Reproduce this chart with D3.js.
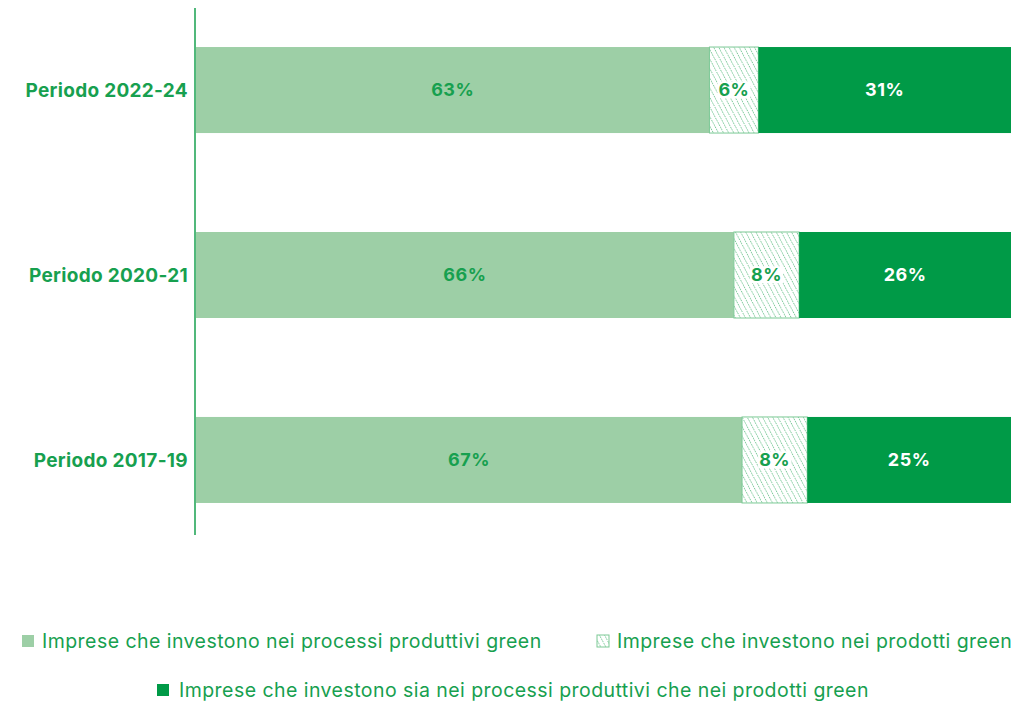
<!DOCTYPE html>
<html>
<head>
<meta charset="utf-8">
<script src="https://cdn.jsdelivr.net/npm/d3@7"></script>
<style>
  body { margin: 0; background: #fff; }
  text { font-family: Inter, "Open Sans", sans-serif; }
</style>
</head>
<body>
<div id="chart"></div>
<script>
// dati
var periods = ["Periodo 2022-24", "Periodo 2020-21", "Periodo 2017-19"];
var processi = [63, 66, 67];
var prodotti = [6, 8, 8];
var entrambi = [31, 26, 25];
var seriesNames = [
  "Imprese che investono nei processi produttivi green",
  "Imprese che investono nei prodotti green",
  "Imprese che investono sia nei processi produttivi che nei prodotti green"
];

var width = 1021, height = 721;
var lightGreen = "#9dcfa6", darkGreen = "#009a47", textGreen = "#17a04f";

var svg = d3.select("#chart").append("svg")
  .attr("width", width).attr("height", height);

var defs = svg.append("defs");
var pat = defs.append("pattern")
  .attr("id", "hatch")
  .attr("patternUnits", "userSpaceOnUse")
  .attr("width", 4.5).attr("height", 5)
  .attr("patternTransform", "rotate(-28)");
pat.append("rect").attr("width", 4.5).attr("height", 5).attr("fill", "#fff");
pat.append("line")
  .attr("x1", 0).attr("y1", 0).attr("x2", 0).attr("y2", 5)
  .attr("stroke", "#2eac5e").attr("stroke-width", 1.2)
  .attr("stroke-dasharray", "1.6,0.9");

var x = d3.scaleLinear().domain([0, 100]).range([196, 1011]);
var y = d3.scaleBand().domain(periods).range([8, 542]).paddingInner(0.535).paddingOuter(0.211);

var rows = periods.map(function(p, i) {
  return { period: p, values: [processi[i], prodotti[i], entrambi[i]] };
});

var fills = [lightGreen, "url(#hatch)", darkGreen];
var labelColors = [textGreen, textGreen, "#ffffff"];

rows.forEach(function(r) {
  var start = 0;
  r.values.forEach(function(v, k) {
    var g = svg.append("g");
    g.append("rect")
      .attr("x", x(start))
      .attr("y", y(r.period))
      .attr("width", x(start + v) - x(start))
      .attr("height", y.bandwidth())
      .attr("fill", fills[k])
      .attr("stroke", k === 1 ? "#7cc995" : "none")
      .attr("stroke-width", 1);
    var t = g.append("text")
      .attr("x", (x(start) + x(start + v)) / 2)
      .attr("y", y(r.period) + y.bandwidth() / 2)
      .attr("dy", "0.35em")
      .attr("text-anchor", "middle")
      .attr("font-size", "18px")
      .attr("font-weight", "bold")
      .attr("letter-spacing", "0.5px")
      .attr("fill", labelColors[k])
      .text(v + "%");
    if (k === 1) {
      var bb = t.node().getBBox();
      g.insert("rect", "text")
        .attr("x", bb.x - 1).attr("y", bb.y + 2)
        .attr("width", bb.width + 2).attr("height", bb.height - 4)
        .attr("fill", "#fff");
    }
    start += v;
  });
});

// asse y
svg.append("line")
  .attr("x1", 195).attr("x2", 195)
  .attr("y1", 8).attr("y2", 535)
  .attr("stroke", textGreen).attr("stroke-width", 1.5);

svg.selectAll(".ylab").data(periods).enter().append("text")
  .attr("class", "ylab")
  .attr("x", 188)
  .attr("y", function(d) { return y(d) + y.bandwidth() / 2; })
  .attr("dy", "0.35em")
  .attr("text-anchor", "end")
  .attr("font-size", "19px")
  .attr("font-weight", "bold")
  .attr("letter-spacing", "0.3px")
  .attr("fill", textGreen)
  .text(function(d) { return d; });

// legenda
var legend = [
  { x: 22, y: 641, fill: lightGreen, label: seriesNames[0] },
  { x: 597, y: 641, fill: "url(#hatch)", label: seriesNames[1] },
  { x: 157, y: 690, fill: darkGreen, label: seriesNames[2] }
];
var lg = svg.selectAll(".leg").data(legend).enter().append("g")
  .attr("class", "leg")
  .attr("transform", function(d) { return "translate(" + d.x + "," + d.y + ")"; });
lg.append("rect")
  .attr("x", 0).attr("y", -6).attr("width", 12).attr("height", 12)
  .attr("fill", function(d) { return d.fill; })
  .attr("stroke", function(d) { return d.fill.indexOf("url") === 0 ? "#7cc995" : "none"; });
lg.append("text")
  .attr("x", function(d, i) { return i === 2 ? 22 : 20; })
  .attr("y", 0)
  .attr("dy", "0.35em")
  .attr("font-size", "19.5px")
  .attr("letter-spacing", "0.45px")
  .attr("fill", textGreen)
  .text(function(d) { return d.label; });
</script>
</body>
</html>
